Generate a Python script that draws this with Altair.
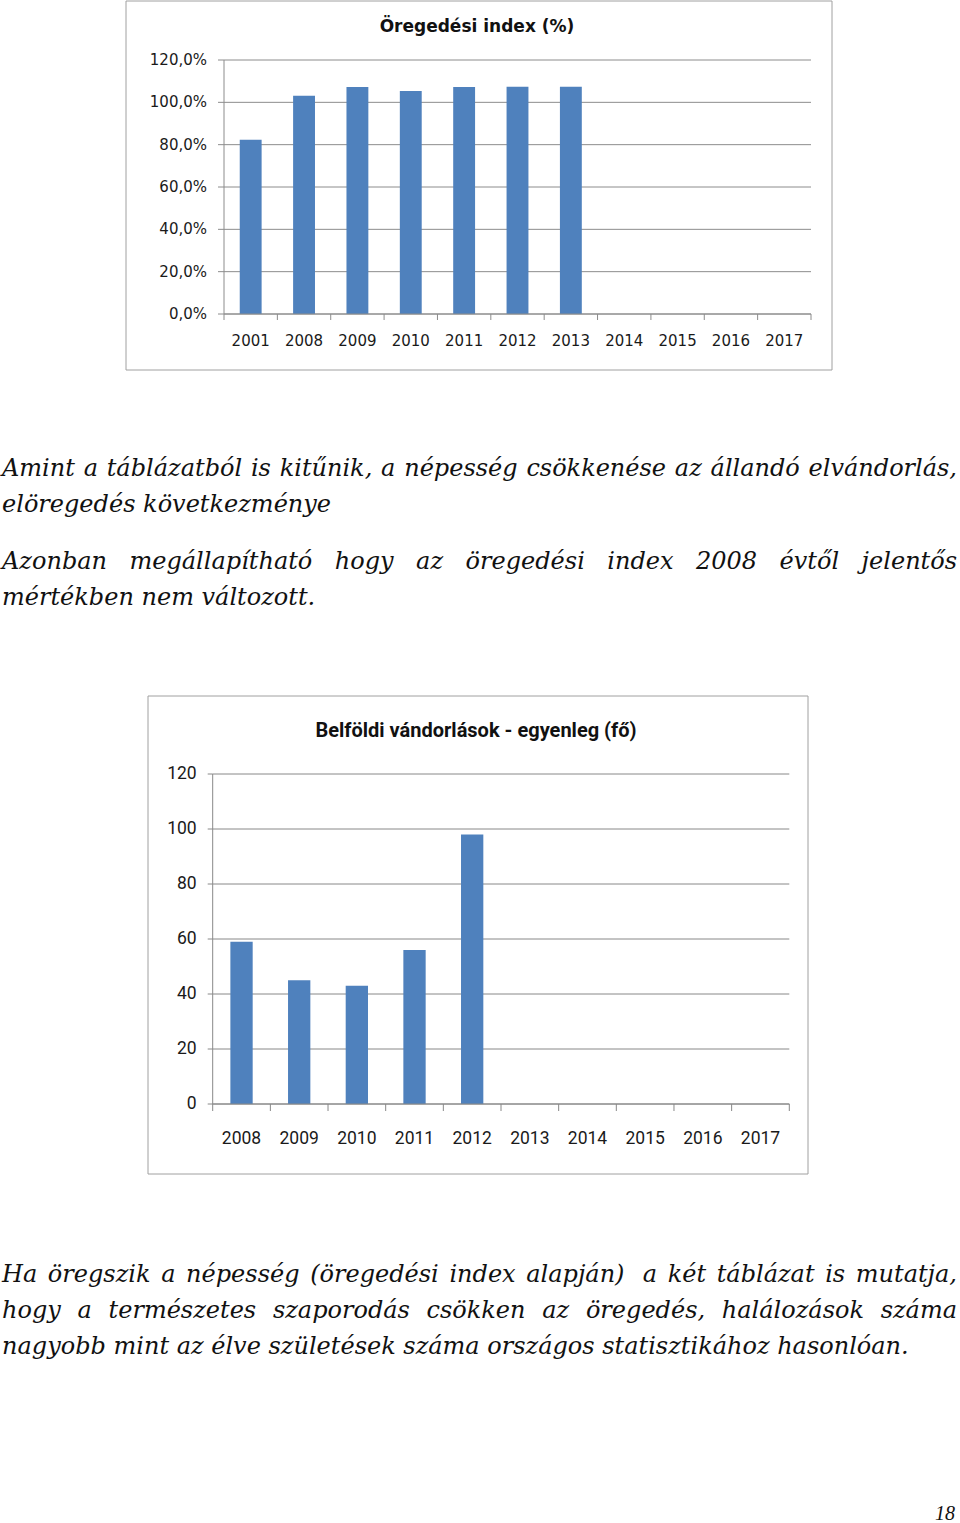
import unicodedata
import altair as alt
import pandas as pd

# ---------------- data ----------------
years1 = ["2001", "2008", "2009", "2010", "2011", "2012", "2013", "2014", "2015", "2016", "2017"]
index_years = ["2001", "2008", "2009", "2010", "2011", "2012", "2013"]
index_vals = [82.3, 103.1, 107.2, 105.3, 107.2, 107.4, 107.4]

years2 = ["2008", "2009", "2010", "2011", "2012", "2013", "2014", "2015", "2016", "2017"]
migr_years = ["2008", "2009", "2010", "2011", "2012"]
migr_vals = [59, 45, 43, 56, 98]

ticks1 = [0, 20, 40, 60, 80, 100, 120]
ticks2 = [0, 20, 40, 60, 80, 100, 120]

title1 = "Öregedési index (%)"
title2 = "Belföldi vándorlások - egyenleg (fő)"

para1 = [
    ("Amint a táblázatból is kitűnik, a népesség csökkenése az állandó elvándorlás,", "justify"),
    ("elöregedés következménye", "left"),
]
para2 = [
    ("Azonban megállapítható hogy az öregedési index 2008 évtől jelentős", "justify"),
    ("mértékben nem változott.", "left"),
]
para3 = [
    ("Ha öregszik a népesség (öregedési index alapján)  a két táblázat is mutatja,", "justify"),
    ("hogy a természetes szaporodás csökken az öregedés, halálozások száma", "justify"),
    ("nagyobb mint az élve születések száma országos statisztikához hasonlóan.", "left"),
]
page_no = "18"

# ---------------- styling / layout ----------------
BLUE = "#4F81BD"
GRID = "#8c8c8c"
FRAME = "#a0a0a0"
LABEL = "#1a1a1a"
SERIF = "DejaVu Serif"
TXT_SIZE = 24
LEAD = 36
PAGE_W, PAGE_H = 960, 1523
TEXT_LEFT, TEXT_RIGHT = 2, 957

# chart 1 plot rectangle (page pixels)
C1 = dict(x0=224, x1=811, yb=314, yt=60, frame=(126, 832, 1, 370), title_y=27,
          font="DejaVu Sans", lsize=15, tsize=17, xlab_y=341, ylab_gap=17, ytick=6, xtick=6,
          bar=0.41, grid=GRID)
# chart 2 plot rectangle (page pixels)
C2 = dict(x0=212.7, x1=789.3, yb=1104, yt=774, frame=(148, 808, 696, 1174), title_y=731,
          font="Roboto", lsize=17.5, tsize=20, xlab_y=1139, ylab_gap=16, ytick=5, xtick=7,
          bar=0.387, grid="#888888")

W_EM = {
    "a": .596, "b": .640, "c": .560, "d": .640, "e": .592, "f": .370, "g": .640, "h": .644,
    "i": .320, "j": .310, "k": .606, "l": .320, "m": .948, "n": .644, "o": .602, "p": .640,
    "q": .640, "r": .478, "s": .513, "t": .402, "u": .644, "v": .565, "w": .856, "x": .564,
    "y": .565, "z": .527, ",": .318, ".": .318, "(": .390, ")": .390, " ": .318,
    "A": .722, "H": .872,
}


def text_width(s, size):
    w = 0.0
    for ch in s:
        base = unicodedata.normalize("NFD", ch)[0]
        if base.isdigit():
            w += .636
        else:
            w += W_EM.get(base, .70 if base.isupper() else .58)
    return w * size


def layout(lines, y0):
    """Spread words of justified lines over the text column (like the source document)."""
    left_rows, right_rows = [], []
    space = text_width(" ", TXT_SIZE)
    for i, (txt, mode) in enumerate(lines):
        y = y0 + i * LEAD
        if mode == "justify":
            tokens = txt.split(" ")
            words = [t for t in tokens if t]
            extra = space * (len(tokens) - len(words))  # doubled spaces kept wider
            ws = [text_width(w, TXT_SIZE) for w in words]
            gap = (TEXT_RIGHT - TEXT_LEFT - sum(ws) - extra) / (len(words) - 1)
            x = TEXT_LEFT
            wi = 0
            for tk in tokens:
                if not tk:
                    x += space
                    continue
                if wi == len(words) - 1:
                    right_rows.append({"t": tk, "x": TEXT_RIGHT, "y": y})
                else:
                    left_rows.append({"t": tk, "x": x, "y": y})
                x += ws[wi] + gap
                wi += 1
        else:
            left_rows.append({"t": txt, "x": TEXT_LEFT, "y": y})
    return left_rows, right_rows


DUMMY = pd.DataFrame({"k": [0]})


def text_layers(left_rows, right_rows):
    layers = []
    for rows, al in ((left_rows, "left"), (right_rows, "right")):
        if not rows:
            continue
        layers.append(
            alt.Chart(pd.DataFrame(rows)).mark_text(
                align=al, baseline="alphabetic", font=SERIF, fontSize=TXT_SIZE,
                fontStyle="italic", color="#111111",
            ).encode(
                x=alt.X("x:Q", scale=None, axis=None),
                y=alt.Y("y:Q", scale=None, axis=None),
                text="t:N",
            )
        )
    return layers


def chart_layers(c, years, cats, vals, ticks, labels, title):
    xs = alt.Scale(domain=years, range=[c["x0"], c["x1"]], paddingInner=0, paddingOuter=0)
    ys = alt.Scale(domain=[0, 120], range=[c["yb"], c["yt"]], nice=False, zero=True)
    tick_df = pd.DataFrame({"v": ticks, "label": labels})
    year_df = pd.DataFrame({"year": years})
    bar_df = pd.DataFrame({"year": cats, "value": vals})
    fx0, fx1, fy0, fy1 = c["frame"]
    out = [
        # gridlines
        alt.Chart(tick_df).mark_rule(color=c["grid"], strokeWidth=1).encode(
            y=alt.Y("v:Q", scale=ys, axis=None),
            x=alt.value(c["x0"]), x2=alt.value(c["x1"])),
        # bars
        alt.Chart(bar_df).mark_bar(color=BLUE, width=alt.RelativeBandSize(c["bar"])).encode(
            x=alt.X("year:N", scale=xs, axis=None),
            y=alt.Y("value:Q", scale=ys, axis=None)),
        # y ticks
        alt.Chart(tick_df).mark_rule(color=c["grid"]).encode(
            y=alt.Y("v:Q", scale=ys, axis=None),
            x=alt.value(c["x0"] - c["ytick"]), x2=alt.value(c["x0"])),
        # y labels
        alt.Chart(tick_df).mark_text(align="right", baseline="middle", font=c["font"],
                                     fontSize=c["lsize"], color=LABEL).encode(
            y=alt.Y("v:Q", scale=ys, axis=None),
            x=alt.value(c["x0"] - c["ylab_gap"]), text="label:N"),
        # axis lines
        alt.Chart(DUMMY).mark_rule(color=c["grid"]).encode(
            x=alt.value(c["x0"]), y=alt.value(c["yb"]), y2=alt.value(c["yt"])),
        alt.Chart(DUMMY).mark_rule(color=c["grid"]).encode(
            x=alt.value(c["x0"]), x2=alt.value(c["x1"]), y=alt.value(c["yb"])),
        # x ticks at category boundaries
        alt.Chart(year_df).mark_rule(color=c["grid"]).encode(
            x=alt.X("year:N", scale=xs, axis=None, bandPosition=0),
            y=alt.value(c["yb"]), y2=alt.value(c["yb"] + c["xtick"])),
        alt.Chart(DUMMY).mark_rule(color=c["grid"]).encode(
            x=alt.value(c["x1"]), y=alt.value(c["yb"]), y2=alt.value(c["yb"] + c["xtick"])),
        # x labels
        alt.Chart(year_df).mark_text(baseline="middle", font=c["font"], fontSize=c["lsize"],
                                     color=LABEL).encode(
            x=alt.X("year:N", scale=xs, axis=None, bandPosition=0.5),
            y=alt.value(c["xlab_y"]), text="year:N"),
        # frame
        alt.Chart(DUMMY).mark_rect(fillOpacity=0, stroke=FRAME, strokeWidth=1).encode(
            x=alt.value(fx0), x2=alt.value(fx1), y=alt.value(fy0), y2=alt.value(fy1)),
        # title
        alt.Chart(pd.DataFrame({"t": [title]})).mark_text(
            align="center", baseline="middle", font=c["font"], fontSize=c["tsize"],
            fontWeight="bold", color="#111111").encode(
            x=alt.value((fx0 + fx1) / 2 - 2), y=alt.value(c["title_y"]), text="t:N"),
    ]
    return out


labels1 = [f"{v:.1f}".replace(".", ",") + "%" for v in ticks1]
labels2 = [str(v) for v in ticks2]

layers = []
layers += chart_layers(C1, years1, index_years, index_vals, ticks1, labels1, title1)
layers += chart_layers(C2, years2, migr_years, migr_vals, ticks2, labels2, title2)

la, ra = layout(para1, 476)
lb, rb = layout(para2, 569)
lc, rc = layout(para3, 1282)
layers += text_layers(la + lb + lc, ra + rb + rc)

layers.append(
    alt.Chart(pd.DataFrame({"t": [page_no]})).mark_text(
        align="right", baseline="alphabetic", font="Liberation Serif", fontSize=20,
        fontStyle="italic", color="#111111",
    ).encode(x=alt.value(955), y=alt.value(1520), text="t:N")
)

chart = alt.layer(*layers).resolve_scale(
    x="independent", y="independent"
).properties(
    width=PAGE_W, height=PAGE_H, padding=0, background="white",
    autosize=alt.AutoSizeParams(type="none"),
).configure_view(stroke="transparent")

chart.save("out.html", embed_options={"renderer": "svg", "actions": False})
